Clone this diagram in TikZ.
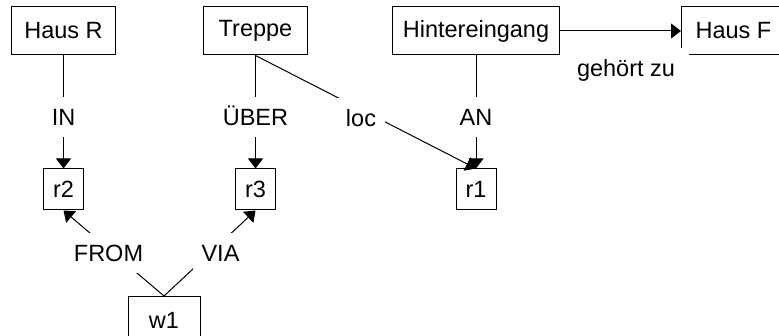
\documentclass[tikz,border=0pt]{standalone}
\usepackage{fontspec}
\setmainfont{Liberation Sans}
\usetikzlibrary{arrows.meta}
\begin{document}
\begin{tikzpicture}[x=1pt,y=-1pt,
  every node/.style={font=\fontsize{23.5}{28}\selectfont},
  box/.style={draw, line width=1pt, minimum width=104pt, minimum height=48pt, inner xsep=10pt, inner ysep=0pt},
  smallbox/.style={draw, line width=1pt, minimum width=40pt, minimum height=41pt, inner sep=0pt},
  lbl/.style={fill=white, minimum height=40pt, inner ysep=0pt, inner xsep=9pt, text height=17pt, text depth=0pt},
  conn/.style={line width=1pt},
  arr/.style={conn, -{Triangle[length=10pt,width=15pt]}}]
\useasboundingbox (0,0) rectangle (779,336);
\clip (0,0) rectangle (779,336);
% boxes
\node[box] (hausR) at (63.5,31) {Haus R};
\node[box] (treppe) at (255.5,31) {Treppe};
\node[box] (hinter) at (476,31) {Hintereingang};
\node[box, anchor=west] (hausF) at (681,31) {Haus F};
\node[smallbox] (r2) at (63.5,189.5) {r2};
\node[smallbox] (r3) at (255.5,189.5) {r3};
\node[smallbox] (r1) at (476,189.5) {r1};
\node[box, minimum width=72pt, anchor=north] (w1) at (164,296) {w1};
% connectors
\draw[arr] (hausR) -- (r2);
\draw[arr] (treppe) -- (r3);
\draw[arr] (hinter) -- (r1);
\draw[arr] (treppe.south) -- (r1.north);
\draw[arr] (hinter) -- (hausF);
\draw[arr] (w1.north) -- (r2.south);
\draw[arr] (w1.north) -- (r3.south);
% labels
\node[lbl] (lin) at (63.5,117) {IN};
\node[lbl] (luber) at (255.5,117) {ÜBER};
\node[lbl] (lloc) at (361,118) {loc};
\node[lbl] (lan) at (476,117) {AN};
\node[lbl] (lfrom) at (108.5,253) {FROM};
\node[lbl] (lvia) at (220.5,253) {VIA};
\node[lbl, inner xsep=14pt] (lgeh) at (626,68) {gehört zu};
\end{tikzpicture}
\end{document}
